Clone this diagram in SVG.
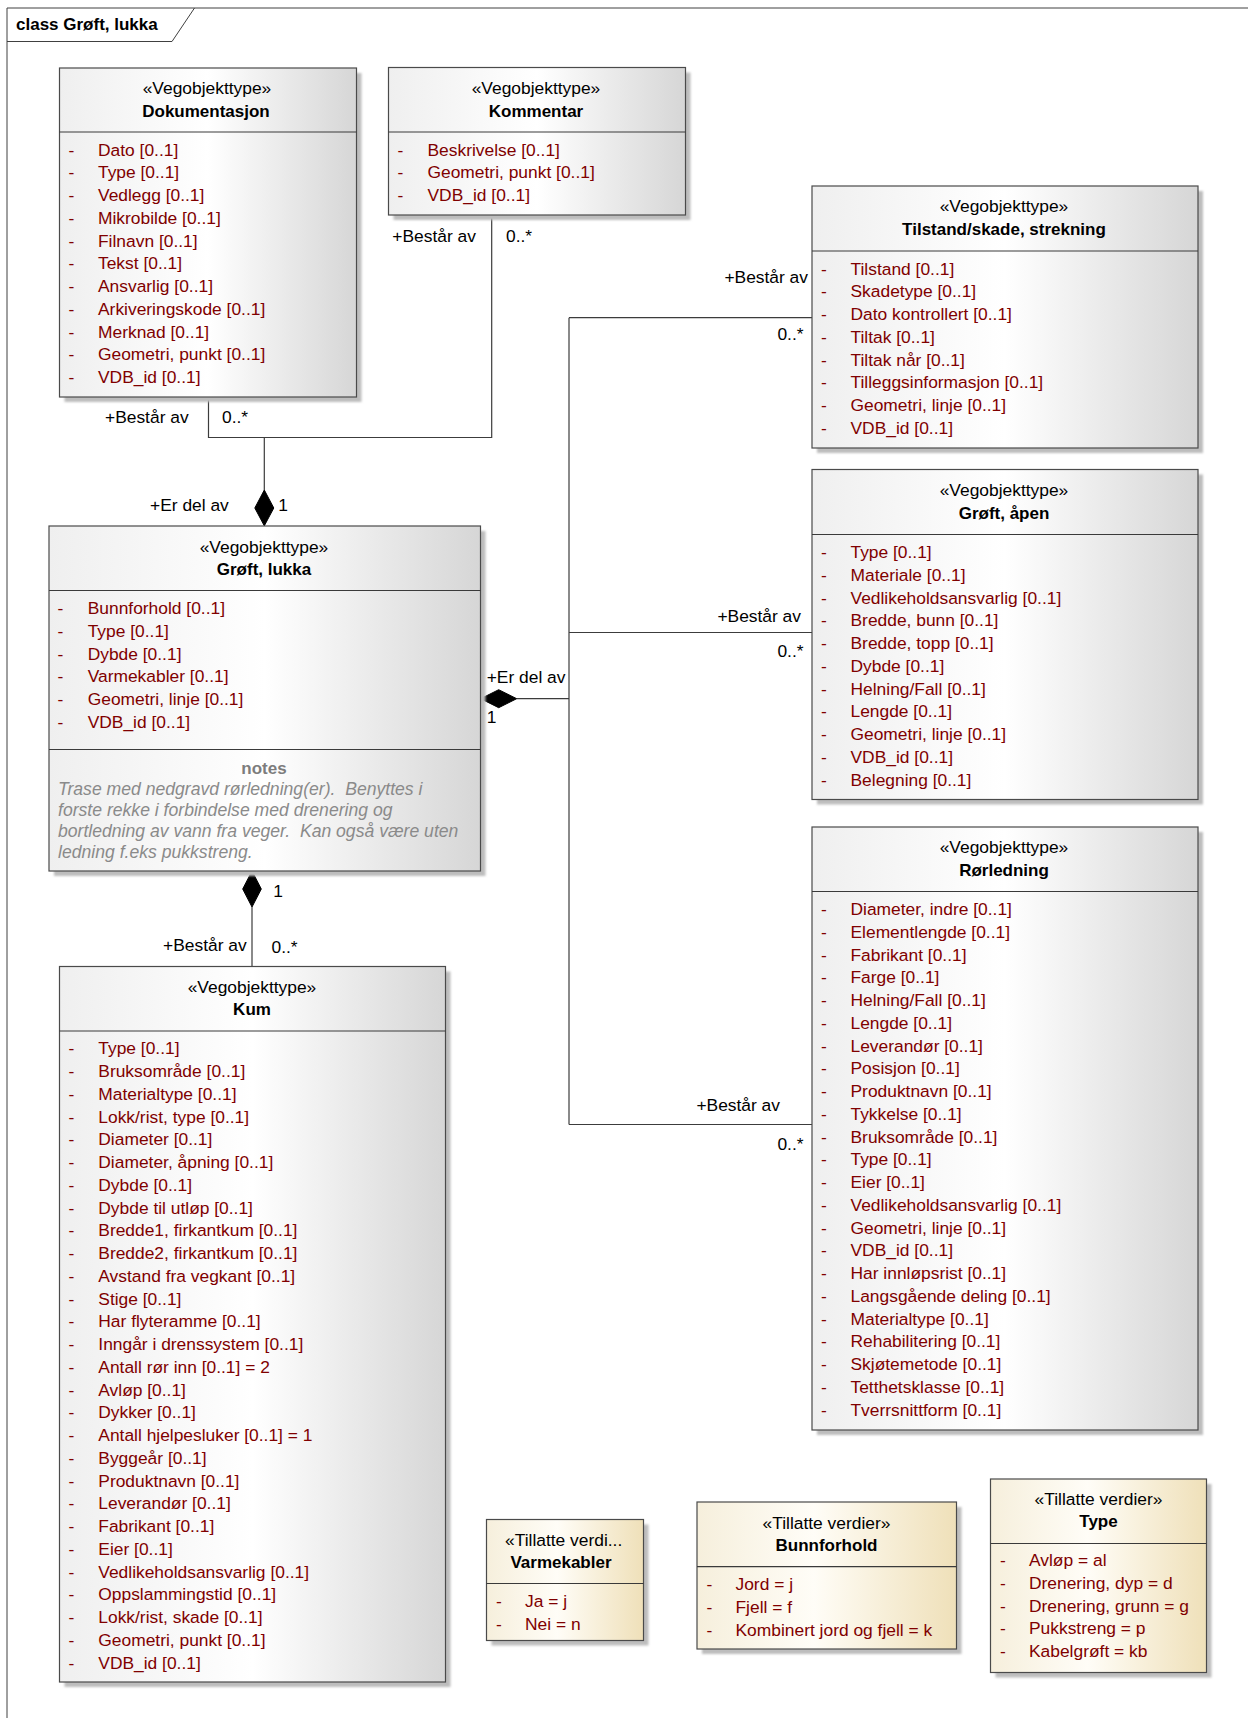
<svg xmlns="http://www.w3.org/2000/svg" width="1248" height="1718" viewBox="0 0 1248 1718">
  <defs>
    <linearGradient id="gGray" x1="0" y1="0" x2="1" y2="0">
      <stop offset="0" stop-color="#efefef"/>
      <stop offset="0.5" stop-color="#ffffff"/>
      <stop offset="1" stop-color="#d6d6d6"/>
    </linearGradient>
    <linearGradient id="gCream" x1="0" y1="0" x2="1" y2="0">
      <stop offset="0" stop-color="#f6efdc"/>
      <stop offset="0.45" stop-color="#fffdf7"/>
      <stop offset="1" stop-color="#efe0b9"/>
    </linearGradient>
    <filter id="soft" x="-5%" y="-5%" width="110%" height="110%">
      <feGaussianBlur stdDeviation="1.2"/>
    </filter>
  </defs>
  <style>
    text { font-family: "Liberation Sans", Arial, sans-serif; font-size: 17.4px; }
    .frame { fill: none; stroke: #404040; stroke-width: 1; }
    .title { font-weight: bold; fill: #000; font-size: 17px; }
    .shadow { fill: #bdbdbd; filter: url(#soft); }
    .box { fill: url(#gGray); stroke: #4a4a4a; stroke-width: 1.2; }
    .enum { fill: url(#gCream); stroke: #4a4a4a; stroke-width: 1.2; }
    .sep { stroke: #3a3a3a; stroke-width: 1.2; }
    .st { fill: #000; text-anchor: middle; }
    .nm { fill: #000; font-weight: bold; font-size: 17px; text-anchor: middle; }
    .attr { fill: #800000; }
    .notesh { fill: #7d7d7d; font-weight: bold; font-size: 17px; text-anchor: middle; }
    .notes { fill: #8a8a8a; font-style: italic; font-size: 17.6px; }
    .conn { fill: none; stroke: #3c3c3c; stroke-width: 1.2; }
    .dia { fill: #000; stroke: #000; stroke-width: 1; }
    .lbl { fill: #000; }
    .end { text-anchor: end; }
  </style>

  <!-- diagram frame with its name tab -->
  <g id="frame">
    <path class="frame" d="M7,1718 V8 H1248"/>
    <path class="frame" d="M7,41.5 H172 L194.5,8"/>
    <text class="title" x="16" y="29.5">class Grøft, lukka</text>
  </g>

  <!-- associations -->
  <g id="connectors">
    <path class="conn" d="M208.5,397 V437.5 H491.7 V215"/>
    <path class="conn" d="M264.3,437.5 V490"/>
    <path class="dia" d="M264.3,490 L273.8,508 L264.3,525.8 L254.8,508 Z"/>
    <path class="conn" d="M569,317.7 V1124.5"/>
    <path class="conn" d="M569,317.7 H812"/>
    <path class="conn" d="M569,632.5 H812"/>
    <path class="conn" d="M569,1124.5 H812"/>
    <path class="conn" d="M516.7,698.7 H569"/>
    <path class="dia" d="M480.7,698.7 L498.7,689.7 L516.7,698.7 L498.7,707.7 Z"/>
    <path class="dia" d="M252,871 L261.3,889 L252,907 L242.7,889 Z"/>
    <path class="conn" d="M252,907 V966.5"/>

    <text class="lbl" x="105" y="422.5">+Består av</text>
    <text class="lbl" x="222" y="422.5">0..*</text>
    <text class="lbl" x="392.3" y="241.7">+Består av</text>
    <text class="lbl" x="506" y="241.7">0..*</text>
    <text class="lbl" x="150" y="510.7">+Er del av</text>
    <text class="lbl" x="278.3" y="510.7">1</text>
    <text class="lbl end" x="808" y="283">+Består av</text>
    <text class="lbl end" x="803.5" y="340">0..*</text>
    <text class="lbl end" x="801" y="621.7">+Består av</text>
    <text class="lbl end" x="803.5" y="656.7">0..*</text>
    <text class="lbl end" x="780" y="1110.7">+Består av</text>
    <text class="lbl end" x="803.5" y="1150">0..*</text>
    <text class="lbl" x="486.7" y="683.3">+Er del av</text>
    <text class="lbl" x="486.7" y="723.3">1</text>
    <text class="lbl" x="273.3" y="896.7">1</text>
    <text class="lbl end" x="246.7" y="950.7">+Består av</text>
    <text class="lbl" x="271.5" y="953">0..*</text>
  </g>

  <!-- Dokumentasjon -->
  <g id="dokumentasjon">
    <rect class="shadow" x="64.5" y="73" width="297" height="329"/>
    <rect class="box" x="59.5" y="68" width="297" height="329"/>
    <line class="sep" x1="59.5" y1="132" x2="356.5" y2="132"/>
    <text class="st" x="207" y="93.5">«Vegobjekttype»</text>
    <text class="nm" x="206" y="117">Dokumentasjon</text>
    <text class="attr">
      <tspan x="68.5" y="155.5">-</tspan><tspan x="68.5" y="178.25">-</tspan><tspan x="68.5" y="201">-</tspan><tspan x="68.5" y="223.75">-</tspan><tspan x="68.5" y="246.5">-</tspan><tspan x="68.5" y="269.25">-</tspan><tspan x="68.5" y="292">-</tspan><tspan x="68.5" y="314.75">-</tspan><tspan x="68.5" y="337.5">-</tspan><tspan x="68.5" y="360.25">-</tspan><tspan x="68.5" y="383">-</tspan>
    </text>
    <text class="attr">
      <tspan x="98" y="155.5">Dato [0..1]</tspan>
      <tspan x="98" y="178.25">Type [0..1]</tspan>
      <tspan x="98" y="201">Vedlegg [0..1]</tspan>
      <tspan x="98" y="223.75">Mikrobilde [0..1]</tspan>
      <tspan x="98" y="246.5">Filnavn [0..1]</tspan>
      <tspan x="98" y="269.25">Tekst [0..1]</tspan>
      <tspan x="98" y="292">Ansvarlig [0..1]</tspan>
      <tspan x="98" y="314.75">Arkiveringskode [0..1]</tspan>
      <tspan x="98" y="337.5">Merknad [0..1]</tspan>
      <tspan x="98" y="360.25">Geometri, punkt [0..1]</tspan>
      <tspan x="98" y="383">VDB_id [0..1]</tspan>
    </text>
  </g>

  <!-- Kommentar -->
  <g id="kommentar">
    <rect class="shadow" x="393.5" y="72.5" width="297" height="147.5"/>
    <rect class="box" x="388.5" y="67.5" width="297" height="147.5"/>
    <line class="sep" x1="388.5" y1="132" x2="685.5" y2="132"/>
    <text class="st" x="536" y="93.5">«Vegobjekttype»</text>
    <text class="nm" x="536" y="117">Kommentar</text>
    <text class="attr">
      <tspan x="397.5" y="155.5">-</tspan><tspan x="397.5" y="178.25">-</tspan><tspan x="397.5" y="201">-</tspan>
    </text>
    <text class="attr">
      <tspan x="427.5" y="155.5">Beskrivelse [0..1]</tspan>
      <tspan x="427.5" y="178.25">Geometri, punkt [0..1]</tspan>
      <tspan x="427.5" y="201">VDB_id [0..1]</tspan>
    </text>
  </g>

  <!-- Tilstand/skade, strekning -->
  <g id="tilstand-skade">
    <rect class="shadow" x="817" y="191" width="386" height="262"/>
    <rect class="box" x="812" y="186" width="386" height="262"/>
    <line class="sep" x1="812" y1="251" x2="1198" y2="251"/>
    <text class="st" x="1004" y="212">«Vegobjekttype»</text>
    <text class="nm" x="1004" y="235.3">Tilstand/skade, strekning</text>
    <text class="attr">
      <tspan x="821" y="274.5">-</tspan><tspan x="821" y="297.25">-</tspan><tspan x="821" y="320">-</tspan><tspan x="821" y="342.75">-</tspan><tspan x="821" y="365.5">-</tspan><tspan x="821" y="388.25">-</tspan><tspan x="821" y="411">-</tspan><tspan x="821" y="433.75">-</tspan>
    </text>
    <text class="attr">
      <tspan x="850.5" y="274.5">Tilstand [0..1]</tspan>
      <tspan x="850.5" y="297.25">Skadetype [0..1]</tspan>
      <tspan x="850.5" y="320">Dato kontrollert [0..1]</tspan>
      <tspan x="850.5" y="342.75">Tiltak [0..1]</tspan>
      <tspan x="850.5" y="365.5">Tiltak når [0..1]</tspan>
      <tspan x="850.5" y="388.25">Tilleggsinformasjon [0..1]</tspan>
      <tspan x="850.5" y="411">Geometri, linje [0..1]</tspan>
      <tspan x="850.5" y="433.75">VDB_id [0..1]</tspan>
    </text>
  </g>

  <!-- Grøft, åpen -->
  <g id="groft-apen">
    <rect class="shadow" x="817" y="474.5" width="386" height="330"/>
    <rect class="box" x="812" y="469.5" width="386" height="330"/>
    <line class="sep" x1="812" y1="534.5" x2="1198" y2="534.5"/>
    <text class="st" x="1004" y="495.5">«Vegobjekttype»</text>
    <text class="nm" x="1004" y="518.8">Grøft, åpen</text>
    <text class="attr">
      <tspan x="821" y="558">-</tspan><tspan x="821" y="580.75">-</tspan><tspan x="821" y="603.5">-</tspan><tspan x="821" y="626.25">-</tspan><tspan x="821" y="649">-</tspan><tspan x="821" y="671.75">-</tspan><tspan x="821" y="694.5">-</tspan><tspan x="821" y="717.25">-</tspan><tspan x="821" y="740">-</tspan><tspan x="821" y="762.75">-</tspan><tspan x="821" y="785.5">-</tspan>
    </text>
    <text class="attr">
      <tspan x="850.5" y="558">Type [0..1]</tspan>
      <tspan x="850.5" y="580.75">Materiale [0..1]</tspan>
      <tspan x="850.5" y="603.5">Vedlikeholdsansvarlig [0..1]</tspan>
      <tspan x="850.5" y="626.25">Bredde, bunn [0..1]</tspan>
      <tspan x="850.5" y="649">Bredde, topp [0..1]</tspan>
      <tspan x="850.5" y="671.75">Dybde [0..1]</tspan>
      <tspan x="850.5" y="694.5">Helning/Fall [0..1]</tspan>
      <tspan x="850.5" y="717.25">Lengde [0..1]</tspan>
      <tspan x="850.5" y="740">Geometri, linje [0..1]</tspan>
      <tspan x="850.5" y="762.75">VDB_id [0..1]</tspan>
      <tspan x="850.5" y="785.5">Belegning [0..1]</tspan>
    </text>
  </g>

  <!-- Grøft, lukka -->
  <g id="groft-lukka">
    <rect class="shadow" x="54" y="531" width="431.5" height="345"/>
    <rect class="box" x="49" y="526" width="431.5" height="345"/>
    <line class="sep" x1="49" y1="590.5" x2="480.5" y2="590.5"/>
    <line class="sep" x1="49" y1="749.5" x2="480.5" y2="749.5"/>
    <text class="st" x="264" y="552.5">«Vegobjekttype»</text>
    <text class="nm" x="264" y="575.3">Grøft, lukka</text>
    <text class="attr">
      <tspan x="57.5" y="614">-</tspan><tspan x="57.5" y="636.75">-</tspan><tspan x="57.5" y="659.5">-</tspan><tspan x="57.5" y="682.25">-</tspan><tspan x="57.5" y="705">-</tspan><tspan x="57.5" y="727.75">-</tspan>
    </text>
    <text class="attr">
      <tspan x="87.7" y="614">Bunnforhold [0..1]</tspan>
      <tspan x="87.7" y="636.75">Type [0..1]</tspan>
      <tspan x="87.7" y="659.5">Dybde [0..1]</tspan>
      <tspan x="87.7" y="682.25">Varmekabler [0..1]</tspan>
      <tspan x="87.7" y="705">Geometri, linje [0..1]</tspan>
      <tspan x="87.7" y="727.75">VDB_id [0..1]</tspan>
    </text>
    <text class="notesh" x="264" y="774">notes</text>
    <text class="notes" xml:space="preserve"><tspan x="58" y="795">Trase med nedgravd rørledning(er).  Benyttes i</tspan><tspan x="58" y="816">forste rekke i forbindelse med drenering og</tspan><tspan x="58" y="837">bortledning av vann fra veger.  Kan også være uten</tspan><tspan x="58" y="858">ledning f.eks pukkstreng.</tspan></text>
  </g>

  <!-- Kum -->
  <g id="kum">
    <rect class="shadow" x="64.5" y="971.5" width="386" height="715.5"/>
    <rect class="box" x="59.5" y="966.5" width="386" height="715.5"/>
    <line class="sep" x1="59.5" y1="1031" x2="445.5" y2="1031"/>
    <text class="st" x="252" y="992.5">«Vegobjekttype»</text>
    <text class="nm" x="252" y="1015.3">Kum</text>
    <text class="attr">
      <tspan x="68.5" y="1054.3">-</tspan><tspan x="68.5" y="1077.05">-</tspan><tspan x="68.5" y="1099.8">-</tspan><tspan x="68.5" y="1122.55">-</tspan><tspan x="68.5" y="1145.3">-</tspan><tspan x="68.5" y="1168.05">-</tspan><tspan x="68.5" y="1190.8">-</tspan><tspan x="68.5" y="1213.55">-</tspan><tspan x="68.5" y="1236.3">-</tspan><tspan x="68.5" y="1259.05">-</tspan><tspan x="68.5" y="1281.8">-</tspan><tspan x="68.5" y="1304.55">-</tspan><tspan x="68.5" y="1327.3">-</tspan><tspan x="68.5" y="1350.05">-</tspan><tspan x="68.5" y="1372.8">-</tspan><tspan x="68.5" y="1395.55">-</tspan><tspan x="68.5" y="1418.3">-</tspan><tspan x="68.5" y="1441.05">-</tspan><tspan x="68.5" y="1463.8">-</tspan><tspan x="68.5" y="1486.55">-</tspan><tspan x="68.5" y="1509.3">-</tspan><tspan x="68.5" y="1532.05">-</tspan><tspan x="68.5" y="1554.8">-</tspan><tspan x="68.5" y="1577.55">-</tspan><tspan x="68.5" y="1600.3">-</tspan><tspan x="68.5" y="1623.05">-</tspan><tspan x="68.5" y="1645.8">-</tspan><tspan x="68.5" y="1668.55">-</tspan>
    </text>
    <text class="attr">
      <tspan x="98.3" y="1054.3">Type [0..1]</tspan>
      <tspan x="98.3" y="1077.05">Bruksområde [0..1]</tspan>
      <tspan x="98.3" y="1099.8">Materialtype [0..1]</tspan>
      <tspan x="98.3" y="1122.55">Lokk/rist, type [0..1]</tspan>
      <tspan x="98.3" y="1145.3">Diameter [0..1]</tspan>
      <tspan x="98.3" y="1168.05">Diameter, åpning [0..1]</tspan>
      <tspan x="98.3" y="1190.8">Dybde [0..1]</tspan>
      <tspan x="98.3" y="1213.55">Dybde til utløp [0..1]</tspan>
      <tspan x="98.3" y="1236.3">Bredde1, firkantkum [0..1]</tspan>
      <tspan x="98.3" y="1259.05">Bredde2, firkantkum [0..1]</tspan>
      <tspan x="98.3" y="1281.8">Avstand fra vegkant [0..1]</tspan>
      <tspan x="98.3" y="1304.55">Stige [0..1]</tspan>
      <tspan x="98.3" y="1327.3">Har flyteramme [0..1]</tspan>
      <tspan x="98.3" y="1350.05">Inngår i drenssystem [0..1]</tspan>
      <tspan x="98.3" y="1372.8">Antall rør inn [0..1] = 2</tspan>
      <tspan x="98.3" y="1395.55">Avløp [0..1]</tspan>
      <tspan x="98.3" y="1418.3">Dykker [0..1]</tspan>
      <tspan x="98.3" y="1441.05">Antall hjelpesluker [0..1] = 1</tspan>
      <tspan x="98.3" y="1463.8">Byggeår [0..1]</tspan>
      <tspan x="98.3" y="1486.55">Produktnavn [0..1]</tspan>
      <tspan x="98.3" y="1509.3">Leverandør [0..1]</tspan>
      <tspan x="98.3" y="1532.05">Fabrikant [0..1]</tspan>
      <tspan x="98.3" y="1554.8">Eier [0..1]</tspan>
      <tspan x="98.3" y="1577.55">Vedlikeholdsansvarlig [0..1]</tspan>
      <tspan x="98.3" y="1600.3">Oppslammingstid [0..1]</tspan>
      <tspan x="98.3" y="1623.05">Lokk/rist, skade [0..1]</tspan>
      <tspan x="98.3" y="1645.8">Geometri, punkt [0..1]</tspan>
      <tspan x="98.3" y="1668.55">VDB_id [0..1]</tspan>
    </text>
  </g>

  <!-- Rørledning -->
  <g id="rorledning">
    <rect class="shadow" x="817" y="832" width="386" height="603"/>
    <rect class="box" x="812" y="827" width="386" height="603"/>
    <line class="sep" x1="812" y1="891.5" x2="1198" y2="891.5"/>
    <text class="st" x="1004" y="853">«Vegobjekttype»</text>
    <text class="nm" x="1004" y="876.3">Rørledning</text>
    <text class="attr">
      <tspan x="821" y="915">-</tspan><tspan x="821" y="937.75">-</tspan><tspan x="821" y="960.5">-</tspan><tspan x="821" y="983.25">-</tspan><tspan x="821" y="1006">-</tspan><tspan x="821" y="1028.75">-</tspan><tspan x="821" y="1051.5">-</tspan><tspan x="821" y="1074.25">-</tspan><tspan x="821" y="1097">-</tspan><tspan x="821" y="1119.75">-</tspan><tspan x="821" y="1142.5">-</tspan><tspan x="821" y="1165.25">-</tspan><tspan x="821" y="1188">-</tspan><tspan x="821" y="1210.75">-</tspan><tspan x="821" y="1233.5">-</tspan><tspan x="821" y="1256.25">-</tspan><tspan x="821" y="1279">-</tspan><tspan x="821" y="1301.75">-</tspan><tspan x="821" y="1324.5">-</tspan><tspan x="821" y="1347.25">-</tspan><tspan x="821" y="1370">-</tspan><tspan x="821" y="1392.75">-</tspan><tspan x="821" y="1415.5">-</tspan>
    </text>
    <text class="attr">
      <tspan x="850.5" y="915">Diameter, indre [0..1]</tspan>
      <tspan x="850.5" y="937.75">Elementlengde [0..1]</tspan>
      <tspan x="850.5" y="960.5">Fabrikant [0..1]</tspan>
      <tspan x="850.5" y="983.25">Farge [0..1]</tspan>
      <tspan x="850.5" y="1006">Helning/Fall [0..1]</tspan>
      <tspan x="850.5" y="1028.75">Lengde [0..1]</tspan>
      <tspan x="850.5" y="1051.5">Leverandør [0..1]</tspan>
      <tspan x="850.5" y="1074.25">Posisjon [0..1]</tspan>
      <tspan x="850.5" y="1097">Produktnavn [0..1]</tspan>
      <tspan x="850.5" y="1119.75">Tykkelse [0..1]</tspan>
      <tspan x="850.5" y="1142.5">Bruksområde [0..1]</tspan>
      <tspan x="850.5" y="1165.25">Type [0..1]</tspan>
      <tspan x="850.5" y="1188">Eier [0..1]</tspan>
      <tspan x="850.5" y="1210.75">Vedlikeholdsansvarlig [0..1]</tspan>
      <tspan x="850.5" y="1233.5">Geometri, linje [0..1]</tspan>
      <tspan x="850.5" y="1256.25">VDB_id [0..1]</tspan>
      <tspan x="850.5" y="1279">Har innløpsrist [0..1]</tspan>
      <tspan x="850.5" y="1301.75">Langsgående deling [0..1]</tspan>
      <tspan x="850.5" y="1324.5">Materialtype [0..1]</tspan>
      <tspan x="850.5" y="1347.25">Rehabilitering [0..1]</tspan>
      <tspan x="850.5" y="1370">Skjøtemetode [0..1]</tspan>
      <tspan x="850.5" y="1392.75">Tetthetsklasse [0..1]</tspan>
      <tspan x="850.5" y="1415.5">Tverrsnittform [0..1]</tspan>
    </text>
  </g>

  <!-- Varmekabler (enumeration) -->
  <g id="varmekabler">
    <rect class="shadow" x="491.5" y="1524.5" width="157" height="121"/>
    <rect class="enum" x="486.5" y="1519.5" width="157" height="121"/>
    <line class="sep" x1="486.5" y1="1583.5" x2="643.5" y2="1583.5"/>
    <text x="505" y="1545.7">«Tillatte verdi...</text>
    <text class="nm" x="561" y="1567.5">Varmekabler</text>
    <text class="attr"><tspan x="496" y="1607">-</tspan><tspan x="496" y="1629.7">-</tspan></text>
    <text class="attr"><tspan x="525" y="1607">Ja = j</tspan><tspan x="525" y="1629.7">Nei = n</tspan></text>
  </g>

  <!-- Bunnforhold (enumeration) -->
  <g id="bunnforhold">
    <rect class="shadow" x="702" y="1507" width="259.5" height="147"/>
    <rect class="enum" x="697" y="1502" width="259.5" height="147"/>
    <line class="sep" x1="697" y1="1566.7" x2="956.5" y2="1566.7"/>
    <text class="st" x="826.5" y="1529">«Tillatte verdier»</text>
    <text class="nm" x="826.5" y="1551">Bunnforhold</text>
    <text class="attr"><tspan x="706.5" y="1590">-</tspan><tspan x="706.5" y="1612.75">-</tspan><tspan x="706.5" y="1635.5">-</tspan></text>
    <text class="attr">
      <tspan x="735.5" y="1590">Jord = j</tspan>
      <tspan x="735.5" y="1612.75">Fjell = f</tspan>
      <tspan x="735.5" y="1635.5">Kombinert jord og fjell = k</tspan>
    </text>
  </g>

  <!-- Type (enumeration) -->
  <g id="type">
    <rect class="shadow" x="995.5" y="1484" width="216" height="193.5"/>
    <rect class="enum" x="990.5" y="1479" width="216" height="193.5"/>
    <line class="sep" x1="990.5" y1="1543.5" x2="1206.5" y2="1543.5"/>
    <text class="st" x="1098.5" y="1505">«Tillatte verdier»</text>
    <text class="nm" x="1098.5" y="1526.7">Type</text>
    <text class="attr"><tspan x="1000" y="1566">-</tspan><tspan x="1000" y="1588.75">-</tspan><tspan x="1000" y="1611.5">-</tspan><tspan x="1000" y="1634.25">-</tspan><tspan x="1000" y="1657">-</tspan></text>
    <text class="attr">
      <tspan x="1029" y="1566">Avløp = al</tspan>
      <tspan x="1029" y="1588.75">Drenering, dyp = d</tspan>
      <tspan x="1029" y="1611.5">Drenering, grunn = g</tspan>
      <tspan x="1029" y="1634.25">Pukkstreng = p</tspan>
      <tspan x="1029" y="1657">Kabelgrøft = kb</tspan>
    </text>
  </g>
</svg>
